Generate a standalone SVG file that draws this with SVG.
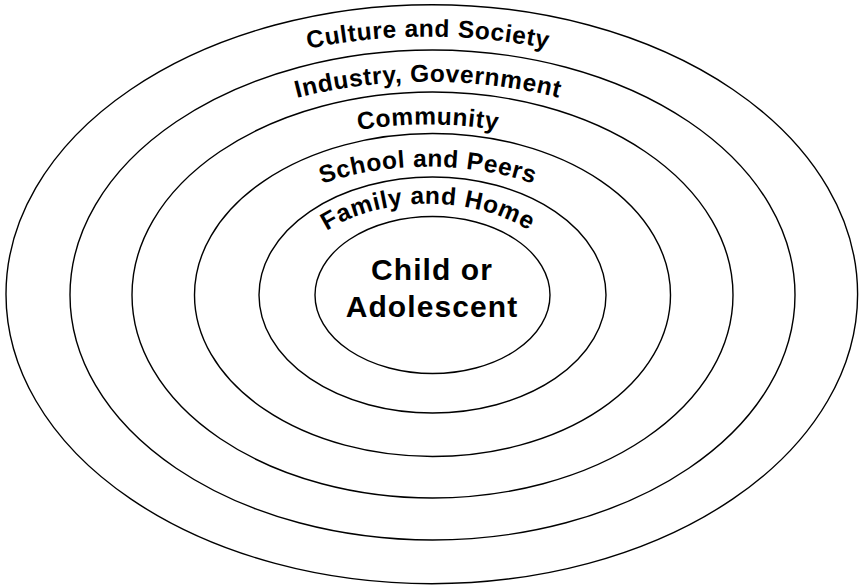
<svg xmlns="http://www.w3.org/2000/svg" width="859" height="586" viewBox="0 0 859 586">
  <style>
    .ring { fill: none; stroke: #000; stroke-width: 1.4; }
    .label { font-family: "Liberation Sans", Arial, Helvetica, sans-serif; font-weight: bold; font-size: 24.5px; letter-spacing: 0.6px; fill: #000; }
    .core { font-family: "Liberation Sans", Arial, Helvetica, sans-serif; font-weight: bold; font-size: 30px; letter-spacing: 1.1px; fill: #000; text-anchor: middle; }
  </style>
  <defs>
    <!-- baseline arcs for the ring labels, each running left to right over the top -->
    <path id="arc-culture" d="M 31,295 A 397,258.3 0 0 1 825,295"/>
    <path id="arc-industry" d="M 84,295 A 344,213.3 0 0 1 772,295"/>
    <path id="arc-community" d="M 156,295 A 272,170.5 0 0 1 700,295"/>
    <path id="arc-school" d="M 216,295 A 212,128.3 0 0 1 640,295"/>
    <path id="arc-family" d="M 285.5,295 A 142.5,91.2 0 0 1 570.5,295"/>
  </defs>

  <rect width="859" height="586" fill="#fff"/>

  <g id="culture-society">
    <ellipse class="ring" cx="431.8" cy="294.2" rx="425.8" ry="289.5"/>
    <text class="label"><textPath href="#arc-culture" startOffset="50%" text-anchor="middle">Culture and Society</textPath></text>
  </g>

  <g id="industry-government">
    <ellipse class="ring" cx="432.5" cy="295" rx="362.5" ry="245"/>
    <text class="label"><textPath href="#arc-industry" startOffset="50%" text-anchor="middle">Industry, Government</textPath></text>
  </g>

  <g id="community">
    <ellipse class="ring" cx="432.5" cy="295" rx="300.5" ry="203"/>
    <text class="label"><textPath href="#arc-community" startOffset="50%" text-anchor="middle">Community</textPath></text>
  </g>

  <g id="school-peers">
    <ellipse class="ring" cx="432.5" cy="295" rx="238" ry="161.5"/>
    <text class="label"><textPath href="#arc-school" startOffset="50%" text-anchor="middle">School and Peers</textPath></text>
  </g>

  <g id="family-home">
    <ellipse class="ring" cx="432.5" cy="295" rx="173.5" ry="118"/>
    <text class="label"><textPath href="#arc-family" startOffset="50%" text-anchor="middle">Family and Home</textPath></text>
  </g>

  <g id="child-adolescent">
    <ellipse class="ring" cx="432.5" cy="295" rx="117.5" ry="78.5"/>
    <text class="core" x="432" y="280">Child or</text>
    <text class="core" x="432" y="317">Adolescent</text>
  </g>

  <!-- the rings are nested, so there are no connectors -->
  <g id="connectors"/>
</svg>
